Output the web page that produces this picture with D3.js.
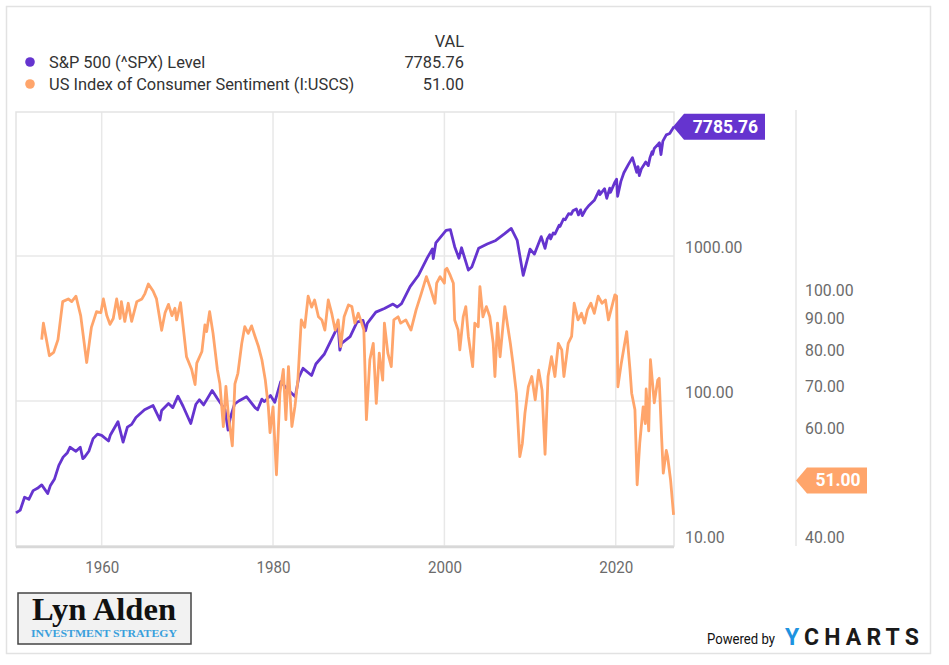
<!DOCTYPE html>
<html>
<head>
<meta charset="utf-8">
<script src="https://cdn.jsdelivr.net/npm/d3@7"></script>
<style>
  body { margin: 0; background: #fff; }
  svg { display: block; font-family: Roboto, "Noto Sans", sans-serif; }
</style>
</head>
<body>
<div id="wrapper"></div>
<script>
// S&P 500 level (decimal year, value)
const spxYears = [1950.0, 1950.5, 1951.0, 1951.5, 1952.0, 1952.5, 1953.0, 1953.7, 1954.0, 1954.5,
  1955.0, 1955.5, 1956.0, 1956.3, 1957.0, 1957.5, 1957.8, 1958.0, 1958.5, 1959.0,
  1959.5, 1960.0, 1960.8, 1961.0, 1961.9, 1962.5, 1963.0, 1963.5, 1964.0, 1965.0,
  1966.0, 1966.8, 1967.0, 1967.8, 1968.3, 1968.9, 1969.5, 1970.4, 1971.0, 1971.4,
  1971.9, 1972.9, 1973.5, 1973.9, 1974.4, 1974.75, 1975.0, 1975.5, 1976.0, 1976.9,
  1977.9, 1978.2, 1978.7, 1979.0, 1979.7, 1980.2, 1980.9, 1981.6, 1982.6, 1983.0,
  1983.5, 1984.5, 1985.0, 1986.0, 1987.6, 1987.8, 1988.0, 1989.0, 1989.8, 1990.5,
  1990.8, 1991.0, 1992.0, 1993.0, 1994.0, 1994.5, 1995.0, 1996.0, 1997.0, 1998.0,
  1998.6, 1998.7, 1999.0, 2000.2, 2000.7, 2001.2, 2001.7, 2002.0, 2002.8, 2003.2,
  2004.0, 2005.0, 2006.0, 2007.0, 2007.8, 2008.5, 2009.2, 2010.0, 2010.5, 2011.3,
  2011.75, 2012.0, 2012.3, 2012.4, 2012.7, 2012.9, 2013.4, 2013.5, 2013.9, 2014.1,
  2014.5, 2014.8, 2015.0, 2015.4, 2015.65, 2015.9, 2016.1, 2016.5, 2016.9, 2017.5,
  2018.05, 2018.15, 2018.7, 2018.95, 2019.3, 2019.4, 2019.9, 2020.1, 2020.22, 2020.6,
  2020.95, 2021.5, 2021.95, 2022.45, 2022.6, 2022.75, 2023.0, 2023.5, 2023.8, 2024.0,
  2024.25, 2024.3, 2024.5, 2024.95, 2025.1, 2025.28, 2025.5, 2025.9, 2026.3, 2026.55, 2026.8];
const spxValues = [16.9, 17.7, 21.7, 21, 24.1, 25, 26.4, 23, 26, 29,
  36, 41, 44, 48, 45, 48, 40, 41, 45, 55,
  59, 58, 53, 58, 72, 52, 66, 69, 77, 87,
  93, 74, 86, 96, 90, 108, 92, 70, 95, 102,
  94, 118, 104, 96, 87, 63, 76, 95, 100, 107,
  90, 87, 103, 99, 109, 98, 136, 122, 107, 145,
  168, 150, 180, 211, 330, 224, 250, 278, 350, 360,
  305, 343, 410, 435, 466, 445, 470, 615, 740, 970,
  1120, 960, 1230, 1500, 1520, 1160, 965, 1140, 800, 840,
  1130, 1210, 1280, 1420, 1550, 1280, 735, 1115, 1030, 1360,
  1130, 1310, 1400, 1310, 1440, 1416, 1630, 1600, 1800, 1780,
  1960, 1940, 2050, 2110, 1920, 2080, 1900, 2100, 2240, 2420,
  2820, 2650, 2910, 2500, 2940, 2750, 3230, 3380, 2580, 3270,
  3750, 4300, 4770, 3780, 4130, 3590, 4000, 4450, 4200, 4770,
  5250, 5030, 5520, 5900, 6040, 5000, 6200, 6850, 7000, 7400, 7785.76];

// US Index of Consumer Sentiment (decimal year, value)
const csYears = [1953.0, 1953.2, 1953.9, 1954.4, 1954.9, 1955.45, 1956.1, 1956.5, 1957.0, 1957.55,
  1958.25, 1958.8, 1959.4, 1959.9, 1960.2, 1960.6, 1960.97, 1961.35, 1961.75, 1962.15,
  1962.3, 1962.7, 1963.1, 1963.5, 1964.1, 1964.7, 1965.05, 1965.45, 1966.0, 1966.4,
  1967.0, 1967.4, 1967.8, 1968.2, 1968.55, 1968.75, 1969.2, 1969.9, 1970.5, 1970.9,
  1971.1, 1971.7, 1972.05, 1972.25, 1972.6, 1973.0, 1973.5, 1973.8, 1974.2, 1974.5,
  1974.8, 1975.25, 1975.55, 1975.9, 1976.35, 1976.7, 1977.1, 1977.5, 1977.9, 1978.3,
  1978.7, 1979.1, 1979.45, 1979.65, 1980.0, 1980.4, 1980.8, 1981.2, 1981.5, 1981.8,
  1982.2, 1982.55, 1982.9, 1983.3, 1983.7, 1984.1, 1984.5, 1984.85, 1985.3, 1985.7,
  1986.05, 1986.45, 1986.85, 1987.25, 1987.6, 1987.9, 1988.3, 1988.8, 1989.2, 1989.55,
  1989.95, 1990.35, 1990.6, 1990.9, 1991.3, 1991.7, 1992.05, 1992.4, 1992.8, 1993.0,
  1993.4, 1993.8, 1994.1, 1994.6, 1994.9, 1995.5, 1996.1, 1996.7, 1997.3, 1997.9,
  1998.3, 1998.9, 1999.1, 1999.5, 2000.0, 2000.1, 2000.3, 2000.7, 2001.05, 2001.2,
  2001.6, 2001.8, 2002.2, 2002.5, 2002.8, 2003.3, 2003.55, 2003.95, 2004.15, 2004.5,
  2004.9, 2005.3, 2005.7, 2005.9, 2006.2, 2006.5, 2007.05, 2007.4, 2007.7, 2008.0,
  2008.4, 2008.8, 2009.1, 2009.4, 2009.8, 2010.2, 2010.6, 2011.0, 2011.4, 2011.75,
  2012.1, 2012.5, 2012.9, 2013.3, 2013.7, 2013.95, 2014.45, 2014.85, 2015.15, 2015.6,
  2016.0, 2016.35, 2016.7, 2017.1, 2017.5, 2017.95, 2018.4, 2018.8, 2019.15, 2019.55,
  2019.9, 2020.1, 2020.25, 2020.65, 2021.28, 2021.66, 2021.86, 2022.24, 2022.5, 2022.8,
  2023.2, 2023.45, 2023.55, 2023.85, 2024.05, 2024.5, 2024.9, 2025.07, 2025.35, 2025.55,
  2025.9, 2026.05, 2026.4, 2026.75];
const csValues = [86, 91.4, 81, 82, 86, 99, 100, 99, 101, 94,
  79, 90, 95.4, 95, 100, 94, 91, 93, 100, 93,
  99, 92, 98.4, 92, 99, 100, 102, 105.7, 103, 100,
  89, 95, 98, 94, 96.6, 92.5, 98.6, 80.7, 77, 72.8,
  78.8, 82.3, 90.8, 88.6, 95.4, 88, 77, 73, 62.3, 72.3,
  64.6, 58, 73, 75.9, 84.8, 90.2, 88, 90.5, 87, 83.8,
  79.8, 74, 67, 60.9, 67, 52.1, 70.5, 77, 63.9, 77.8,
  62.3, 67, 74, 92.5, 90, 101, 97, 99.6, 93.6, 92.5,
  89.1, 99.6, 94.8, 89.1, 92.5, 83.8, 93.6, 97.8, 97.2, 91.4,
  94.8, 91.4, 89.1, 63.9, 79.8, 84.8, 67.9, 81.8, 74, 91.4,
  81.8, 77.8, 92.5, 93.6, 91.4, 92.5, 89.1, 96, 102, 108.6,
  104.7, 98.4, 106, 108.6, 106, 111.4, 112, 109, 106, 92.5,
  89.1, 82.8, 93.6, 97.2, 87, 77.8, 91.4, 90.2, 104.7, 93.6,
  97.2, 93.6, 84.8, 75, 91.4, 80.7, 97.2, 90.2, 84.8, 78.8,
  70.5, 55.7, 58.5, 65.4, 72.2, 75, 68.8, 76.8, 71.3, 56.2,
  75, 80.7, 75, 84.8, 82.8, 75, 84.8, 87, 98.4, 92.5,
  94.8, 91.4, 96, 98.4, 94.8, 101, 98.4, 99.6, 92.5, 97.2,
  101.5, 101, 72.2, 78.8, 88.6, 77, 70.5, 66.3, 50.2, 58.5,
  67, 63, 71.6, 61.3, 79.8, 68, 74, 74.5, 60, 52.4,
  57, 55.8, 51.1, 44.9];

const xTicks = [1960, 1980, 2000, 2020];
const spxTicks = [10, 100, 1000];
const csTicks = [40, 60, 70, 80, 90, 100];
const spxLast = 7785.76;
const csLast = 51.00;

const spxData = spxYears.map((y, i) => ({year: y, value: spxValues[i]}));
const csData = csYears.map((y, i) => ({year: y, value: csValues[i]}));

const width = 949, height = 665;
const plotLeft = 16, plotRight = 674, plotTop = 112, plotBottom = 546;
const rightAxisX = 796;

const purple = "#6534cf";
const orange = "#ffa56b";

let svg = d3.select("#wrapper")
            .append("svg")
            .attr("width", width)
            .attr("height", height);

// outer frame
svg.append("rect")
    .attr("x", 6.5).attr("y", 6.5)
    .attr("width", 924).attr("height", 647)
    .attr("fill", "#fff")
    .attr("stroke", "#e2e2e2")
    .attr("stroke-width", 1.5);

let xScale = d3.scaleLinear()
                .domain([1950, 2026.8])
                .range([plotLeft, plotRight]);

let ySpx = d3.scaleLog()
                .domain([10, 10000])
                .range([plotBottom, plotTop - 1]);

let yCs = d3.scaleLog()
                .domain([40, 200])
                .range([plotBottom, plotTop]);

// grid
let grid = svg.append("g");
grid.selectAll("line.h")
    .data(spxTicks.slice(1))
    .enter()
    .append("line")
    .attr("x1", plotLeft).attr("x2", plotRight)
    .attr("y1", d => ySpx(d)).attr("y2", d => ySpx(d))
    .attr("stroke", "#e8e8e8")
    .attr("stroke-width", 1.5);

grid.selectAll("line.v")
    .data(xTicks)
    .enter()
    .append("line")
    .attr("x1", d => xScale(d)).attr("x2", d => xScale(d))
    .attr("y1", plotTop).attr("y2", plotBottom)
    .attr("stroke", "#e8e8e8")
    .attr("stroke-width", 1.5);

// plot border
svg.append("rect")
    .attr("x", plotLeft).attr("y", plotTop)
    .attr("width", plotRight - plotLeft).attr("height", plotBottom - plotTop)
    .attr("fill", "none")
    .attr("stroke", "#e3e3e3")
    .attr("stroke-width", 1.5);

svg.append("line")
    .attr("x1", plotLeft).attr("x2", plotRight)
    .attr("y1", plotBottom + 1).attr("y2", plotBottom + 1)
    .attr("stroke", "#d8d8d8")
    .attr("stroke-width", 2.5);

// separator for the second axis
svg.append("line")
    .attr("x1", rightAxisX).attr("x2", rightAxisX)
    .attr("y1", 110).attr("y2", plotBottom)
    .attr("stroke", "#e6e6e6")
    .attr("stroke-width", 1.5);

// axes
let xAxisFunction = d3.axisBottom(xScale)
                        .tickValues(xTicks)
                        .tickFormat(d3.format("d"))
                        .tickSize(0)
                        .tickPadding(15);

let xG = svg.append("g")
            .attr("transform", `translate(0, ${plotBottom})`)
            .call(xAxisFunction);

let spxAxisFunction = d3.axisRight(ySpx)
                        .tickValues(spxTicks)
                        .tickFormat(d3.format(".2f"))
                        .tickSize(0)
                        .tickPadding(11);

let spxG = svg.append("g")
            .attr("transform", `translate(${plotRight}, 0)`)
            .call(spxAxisFunction);

let csAxisFunction = d3.axisRight(yCs)
                        .tickValues(csTicks)
                        .tickFormat(d3.format(".2f"))
                        .tickSize(0)
                        .tickPadding(9);

let csG = svg.append("g")
            .attr("transform", `translate(${rightAxisX}, 0)`)
            .call(csAxisFunction);

[xG, spxG, csG].forEach(g => {
    g.select(".domain").remove();
    g.selectAll("text")
        .attr("fill", "#6b6b6b")
        .style("font-size", "15.8px")
        .style("font-family", "Roboto, sans-serif");
});
spxG.selectAll("text").attr("y", -8.5);
csG.selectAll("text").attr("y", -8.5);
xG.selectAll("text")
    .style("font-size", "16.5px")
    .attr("textLength", 34)
    .attr("lengthAdjust", "spacingAndGlyphs");

// lines
const spxLine = d3.line()
            .x(d => xScale(d.year))
            .y(d => ySpx(d.value))
            .curve(d3.curveLinear);

const csLine = d3.line()
            .x(d => xScale(d.year))
            .y(d => yCs(d.value))
            .curve(d3.curveLinear);

svg.append("path")
    .attr("d", spxLine(spxData))
    .attr("fill", "none")
    .attr("stroke", purple)
    .attr("stroke-width", 2.8)
    .attr("stroke-linejoin", "round");

svg.append("path")
    .attr("d", csLine(csData))
    .attr("fill", "none")
    .attr("stroke", orange)
    .attr("stroke-width", 2.8)
    .attr("stroke-linejoin", "round");

// value tags
function tag(tipX, cy, boxLeft, boxRight, color, label) {
    let h = 13;
    svg.append("path")
        .attr("d", `M${tipX},${cy} L${boxLeft},${cy - h} L${boxRight},${cy - h} L${boxRight},${cy + h} L${boxLeft},${cy + h} Z`)
        .attr("fill", color);
    svg.append("text")
        .attr("x", (boxLeft + boxRight) / 2 + 1)
        .attr("y", cy + 6)
        .attr("text-anchor", "middle")
        .attr("fill", "#fff")
        .style("font-size", "17.5px")
        .style("font-weight", "bold")
        .text(label);
}
tag(plotRight - 1, ySpx(spxLast), plotRight + 10, 765, purple, d3.format(".2f")(spxLast));
tag(rightAxisX, yCs(csLast), rightAxisX + 11, 867, orange, d3.format(".2f")(csLast));

// legend
let legend = svg.append("g").style("font-size", "16.4px").attr("fill", "#333");
legend.append("text")
    .attr("x", 464).attr("y", 47)
    .attr("text-anchor", "end")
    .text("VAL");

const legendRows = [
    {name: "S&P 500 (^SPX) Level", color: purple, value: spxLast},
    {name: "US Index of Consumer Sentiment (I:USCS)", color: orange, value: csLast}
];

let rows = legend.selectAll("g.row")
    .data(legendRows)
    .enter()
    .append("g")
    .attr("transform", (d, i) => `translate(0, ${62 + i * 22})`);

rows.append("circle")
    .attr("cx", 30).attr("cy", 0).attr("r", 4.8)
    .attr("fill", d => d.color);
rows.append("text")
    .attr("x", 49).attr("y", 6)
    .text(d => d.name);
rows.append("text")
    .attr("x", 464).attr("y", 6)
    .attr("text-anchor", "end")
    .text(d => d3.format(".2f")(d.value));

// Lyn Alden logo
let logo = svg.append("g");
logo.append("rect")
    .attr("x", 18).attr("y", 593)
    .attr("width", 173).attr("height", 51)
    .attr("fill", "#f2f2f2")
    .attr("stroke", "#444")
    .attr("stroke-width", 1.5);
logo.append("text")
    .attr("x", 104).attr("y", 620)
    .attr("text-anchor", "middle")
    .attr("fill", "#111")
    .style("font-family", "'Liberation Serif', 'DejaVu Serif', serif")
    .style("font-size", "32px")
    .style("font-weight", "bold")
    .attr("textLength", 144)
    .attr("lengthAdjust", "spacingAndGlyphs")
    .text("Lyn Alden");
logo.append("text")
    .attr("x", 104).attr("y", 637)
    .attr("text-anchor", "middle")
    .attr("fill", "#3aa0dc")
    .style("font-family", "'Liberation Serif', 'DejaVu Serif', serif")
    .style("font-size", "10px")
    .style("font-weight", "bold")
    .attr("textLength", 146)
    .attr("lengthAdjust", "spacingAndGlyphs")
    .text("INVESTMENT STRATEGY");

// YCharts credit
svg.append("text")
    .attr("x", 707).attr("y", 644)
    .attr("fill", "#111")
    .style("font-size", "14.5px")
    .attr("textLength", 68)
    .attr("lengthAdjust", "spacingAndGlyphs")
    .text("Powered by");

let yc = svg.append("text")
    .attr("x", 785).attr("y", 645)
    .style("font-size", "23px")
    .style("font-weight", "bold")
    .attr("textLength", 134)
    .attr("lengthAdjust", "spacing");
yc.append("tspan").attr("fill", "#1e93e0").text("Y");
yc.append("tspan").attr("fill", "#1a1a1a").text("CHARTS");
</script>
</body>
</html>
